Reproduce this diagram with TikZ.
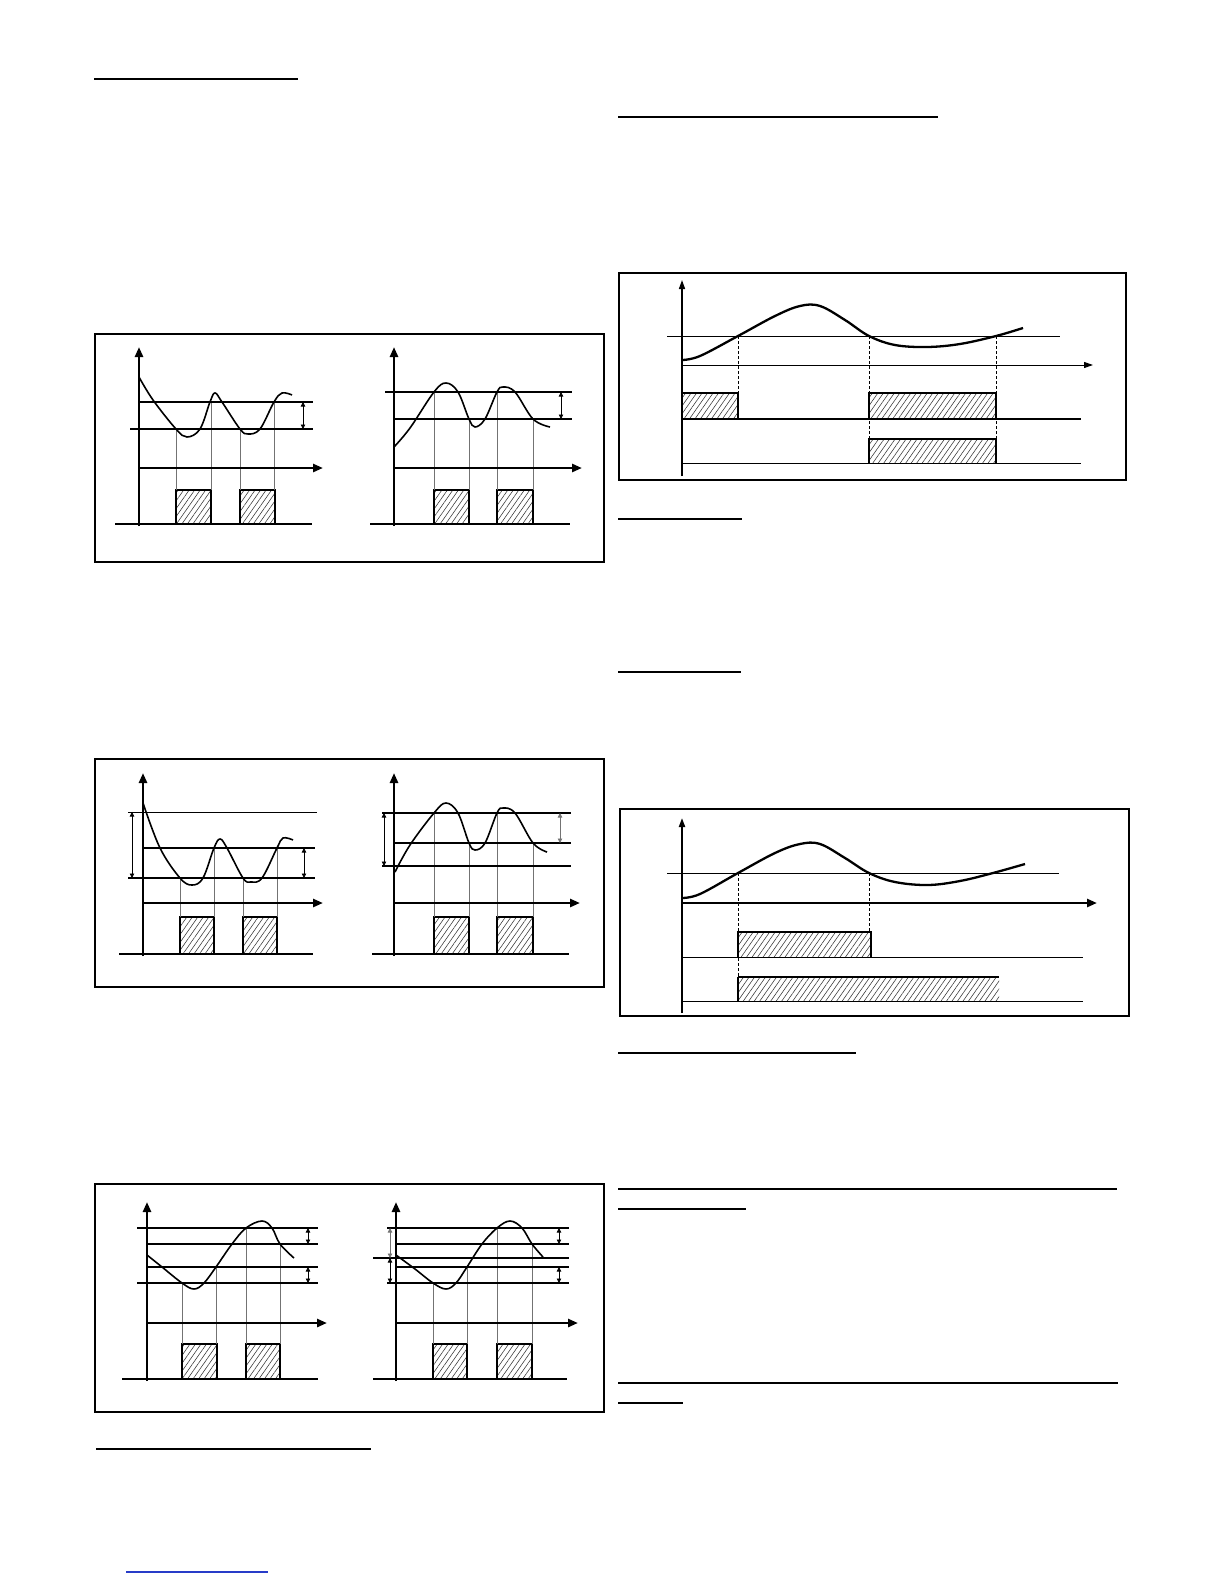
\documentclass[tikz,border=0pt]{standalone}
\usetikzlibrary{arrows.meta,patterns.meta}
\definecolor{linkblue}{RGB}{40,60,200}
\tikzset{
  frame/.style={line width=1.2pt},
  axisy/.style={line width=2.8pt,-{Triangle[length=10pt,width=8pt]}},
  axisx/.style={line width=2.8pt,-{Triangle[length=10pt,width=8pt]}},
  thinaxis/.style={line width=1pt,-{Triangle[length=9pt,width=6pt]}},
  thr/.style={line width=2.4pt},
  thrb/.style={line width=2.8pt},
  thinl/.style={line width=1pt},
  dim/.style={line width=0.8pt,{Triangle[length=4.5pt,width=4.5pt]}-{Triangle[length=4.5pt,width=4.5pt]}},
  dimg/.style={dim,draw=black!55},
  drop/.style={line width=0.7pt,draw=black!55},
  dashline/.style={line width=0.6pt,dash pattern=on 3pt off 2pt},
  curve/.style={line width=1.6pt,smooth,tension=0.6},
  bigcurve/.style={line width=2.3pt,smooth,tension=0.6},
  hatchfill/.style={pattern={Lines[angle=55,distance=4.5pt,line width=0.55pt]},pattern color=black!80},
  boxedge/.style={line width=2.5pt},
  ul/.style={line width=1.5pt}
}
\newcommand\hatchrect[4]{%
  \fill[hatchfill] (#1,#2) rectangle (#3,#4);
  \draw[boxedge] (#1,#4) -- (#1,#2) -- (#3,#2) -- (#3,#4);}
\begin{document}
\begin{tikzpicture}[x=1pt,y=-1pt]
\useasboundingbox (0,0) rectangle (1224,1584);
\fill[white] (0,0) rectangle (1224,1584);

% underlines of headings
\draw[ul] (94,79) -- (298,79);
\draw[ul] (618,117) -- (938,117);
\draw[ul] (618,519) -- (742,519);
\draw[ul] (618,672) -- (741,672);
\draw[ul] (618,1053) -- (856,1053);
\draw[ul] (618,1189) -- (1117,1189);
\draw[ul] (618,1209) -- (746,1209);
\draw[ul] (618,1383) -- (1118,1383);
\draw[ul] (618,1403) -- (683,1403);
\draw[ul] (96,1449) -- (371,1449);
\draw[ul,linkblue] (126,1572) -- (268,1572);

% ================= BOX 1 =================
\draw[frame] (95,334) rectangle (604,562);
% left graph
\hatchrect{176}{490}{211}{524}
\hatchrect{240}{490}{275}{524}
\draw[drop] (176,429) -- (176,490) (211,402) -- (211,490) (240,429) -- (240,490) (274,402) -- (274,490);
\draw[axisy] (139,526) -- (139,347);
\draw[thr] (115,524) -- (312,524);
\draw[axisx] (139,468) -- (323,468);
\draw[thr] (139,402) -- (313,402);
\draw[thr] (130,429) -- (313,429);
\draw[dim] (303,402) -- (303,429);
\draw[curve] plot coordinates {(139,377) (153,400) (176,429) (187,437) (200,429) (210,402) (215,393) (222,402) (240,429) (248,434) (260,429) (274,402) (282,393) (292,395)};
% right graph
\hatchrect{434}{490}{469}{524}
\hatchrect{497}{490}{533}{524}
\draw[drop] (434,392) -- (434,490) (469,419) -- (469,490) (497,392) -- (497,490) (533,419) -- (533,490);
\draw[axisy] (394,526) -- (394,347);
\draw[thr] (370,524) -- (570,524);
\draw[axisx] (394,468) -- (582,468);
\draw[thr] (385,392) -- (572,392);
\draw[thr] (394,419) -- (572,419);
\draw[dim] (561,392) -- (561,419);
\draw[curve] plot coordinates {(394,447) (410,428) (434,392) (446,383) (458,392) (469,419) (475,427) (485,419) (497,392) (503,387) (515,392) (533,419) (550,427)};

% ================= BOX 2 =================
\draw[frame] (95,759) rectangle (604,987);
% left graph
\hatchrect{180}{917}{214}{954}
\hatchrect{243}{917}{277}{954}
\draw[drop] (180,878) -- (180,917) (214,848) -- (214,917) (243,878) -- (243,917) (277,848) -- (277,917);
\draw[axisy] (143,956) -- (143,773);
\draw[thr] (119,954) -- (313,954);
\draw[axisx] (143,903) -- (323,903);
\draw[thinl] (128,812) -- (317,812);
\draw[thr] (143,848) -- (315,848);
\draw[thr] (128,878) -- (315,878);
\draw[dim] (132,812) -- (132,878);
\draw[dim] (304,848) -- (304,878);
\draw[curve] plot coordinates {(143,803) (160,848) (180,878) (192,885) (203,878) (214,848) (220,839) (227,848) (243,878) (251,882) (262,878) (277,848) (283,838) (293,840)};
% right graph
\hatchrect{434}{917}{469}{954}
\hatchrect{497}{917}{533}{954}
\draw[drop] (434,813) -- (434,917) (469,843) -- (469,917) (497,813) -- (497,917) (533,843) -- (533,917);
\draw[axisy] (394,956) -- (394,773);
\draw[thr] (372,954) -- (569,954);
\draw[axisx] (394,903) -- (580,903);
\draw[thr] (382,813) -- (571,813);
\draw[thr] (394,843) -- (571,843);
\draw[thr] (382,866) -- (571,866);
\draw[dim] (384,813) -- (384,866);
\draw[dimg] (560,813) -- (560,843);
\draw[curve] plot coordinates {(395,872) (410,845) (434,813) (446,803) (458,813) (469,843) (475,850) (485,843) (497,813) (503,808) (515,813) (533,843) (547,852)};

% ================= BOX 3 =================
\draw[frame] (95,1184) rectangle (604,1412);
% left graph
\hatchrect{182}{1344}{217}{1379}
\hatchrect{246}{1344}{280}{1379}
\draw[drop] (182,1283) -- (182,1344) (216,1267) -- (216,1344) (246,1228) -- (246,1344) (280,1244) -- (280,1344);
\draw[axisy] (147,1381) -- (147,1202);
\draw[thr] (122,1379) -- (318,1379);
\draw[axisx] (147,1323) -- (327,1323);
\draw[thr] (137,1228) -- (318,1228);
\draw[thr] (147,1244) -- (318,1244);
\draw[thrb] (147,1267) -- (318,1267);
\draw[thr] (137,1283) -- (318,1283);
\draw[dim] (308,1228) -- (308,1244);
\draw[dim] (308,1267) -- (308,1283);
\draw[curve] plot coordinates {(147,1255) (162,1267) (182,1283) (194,1289) (204,1283) (216,1267) (232,1244) (246,1228) (262,1221) (272,1228) (280,1244) (294,1258)};
% right graph
\hatchrect{433}{1344}{467}{1379}
\hatchrect{497}{1344}{532}{1379}
\draw[drop] (433,1283) -- (433,1344) (467,1267) -- (467,1344) (497,1228) -- (497,1344) (532,1244) -- (532,1344);
\draw[axisy] (396,1381) -- (396,1202);
\draw[thr] (373,1379) -- (567,1379);
\draw[axisx] (396,1323) -- (578,1323);
\draw[thr] (387,1228) -- (569,1228);
\draw[thr] (396,1244) -- (569,1244);
\draw[thr] (373,1258) -- (569,1258);
\draw[thrb] (396,1267) -- (569,1267);
\draw[thr] (387,1283) -- (569,1283);
\draw[dimg] (390,1228) -- (390,1258);
\draw[dim] (390,1258) -- (390,1283);
\draw[dim] (559,1228) -- (559,1244);
\draw[dim] (559,1267) -- (559,1283);
\draw[curve] plot coordinates {(396,1255) (415,1269) (433,1283) (446,1289) (456,1283) (467,1267) (482,1244) (497,1228) (510,1221) (522,1228) (532,1244) (543,1257)};

% ================= BOX 4 =================
\draw[frame] (619,273) rectangle (1126,480);
\fill[hatchfill] (682,393) rectangle (738,419);
\draw[boxedge] (682,393) -- (738,393) -- (738,419);
\hatchrect{869}{393}{996}{419}
\hatchrect{869}{439}{996}{463}
\draw[dashline] (738,336) -- (738,393) (869,336) -- (869,439) (996,336) -- (996,439);
\draw[thinaxis,line width=1.5pt] (682,476) -- (682,280);
\draw[thinl] (667,336) -- (1060,336);
\draw[thinaxis] (682,365) -- (1093,365);
\draw[thr] (682,419) -- (1081,419);
\draw[thinl] (682,463) -- (1081,463);
\draw[bigcurve] plot coordinates {(682,360) (700,356) (738,336) (775,316) (800,306) (820,306) (845,320) (869,336) (895,345) (927,347) (960,344) (996,336) (1023,328)};

% ================= BOX 5 =================
\draw[frame] (620,809) rectangle (1129,1016);
\hatchrect{738}{932}{871}{957}
\fill[hatchfill] (738,977) rectangle (999,1001);
\draw[boxedge] (738,1001) -- (738,977);
\draw[line width=1.8pt] (738,977) -- (999,977);
\draw[dashline] (738,873) -- (738,977) (869,873) -- (869,932);
\draw[thinaxis,line width=2pt] (682,1013) -- (682,818);
\draw[thinl] (667,873) -- (1059,873);
\draw[axisx] (682,903) -- (1097,903);
\draw[thinl] (682,957) -- (1083,957);
\draw[thinl] (682,1001) -- (1083,1001);
\draw[bigcurve] plot coordinates {(682,898) (700,894) (738,873) (775,853) (800,844) (820,844) (845,858) (869,873) (895,882) (928,885) (960,881) (993,873) (1025,864)};
\end{tikzpicture}
\end{document}
